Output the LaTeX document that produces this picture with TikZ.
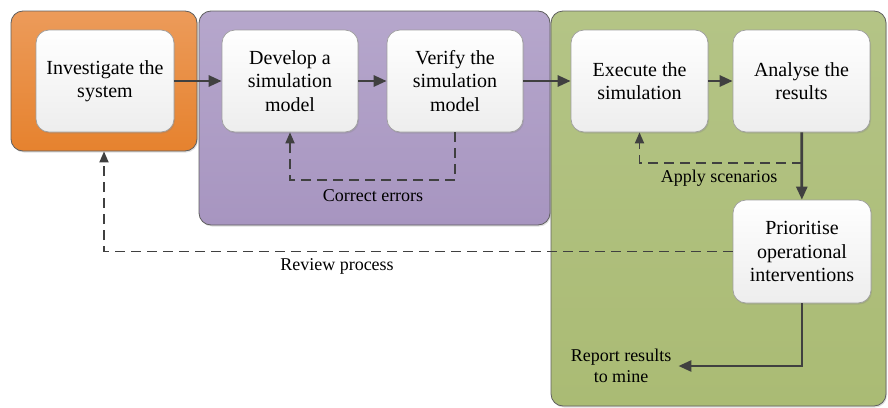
\documentclass[tikz,border=0pt]{standalone}
\usepackage{fontspec}
\setmainfont{Liberation Serif}
\usetikzlibrary{arrows.meta,shadows}
\definecolor{orgtop}{HTML}{EC9B5A}
\definecolor{orgbot}{HTML}{E6822E}
\definecolor{purtop}{HTML}{B6A7CC}
\definecolor{purbot}{HTML}{A795C0}
\definecolor{grntop}{HTML}{B4C486}
\definecolor{grnbot}{HTML}{AABB74}
\definecolor{linegray}{HTML}{404040}
\definecolor{framegray}{HTML}{5F5F5F}
\tikzset{
  container/.style={draw=framegray, line width=0.8pt, rounded corners=12pt,
    drop shadow={opacity=0.25, shadow xshift=1pt, shadow yshift=-1.5pt}},
  stepbox/.style={draw=gray!75, line width=0.7pt, rounded corners=13pt,
    top color=white, bottom color=gray!14, align=center,
    font=\rmfamily\fontsize{20}{23.5}\selectfont, inner sep=2pt,
    drop shadow={opacity=0.25, shadow xshift=1pt, shadow yshift=-1.5pt}},
  flow/.style={draw=linegray, line width=2.7pt, -{Triangle[length=13pt,width=11pt]}},
  back/.style={draw=linegray, line width=1.8pt, dash pattern=on 10pt off 6pt,
    -{Triangle[length=11pt,width=9pt]}},
  lbl/.style={font=\rmfamily\fontsize{18}{21.5}\selectfont, align=center, inner sep=1pt}
}
\begin{document}
\begin{tikzpicture}[x=1pt,y=-1pt]
\useasboundingbox (0,0) rectangle (888,407);
% containers
\node[container, top color=orgtop, bottom color=orgbot, minimum width=186pt, minimum height=140pt] (org) at (104,81) {};
\node[container, top color=purtop, bottom color=purbot, minimum width=351pt, minimum height=214pt] (pur) at (374.5,118) {};
\node[container, top color=grntop, bottom color=grnbot, minimum width=335pt, minimum height=395pt] (grn) at (718.5,208.5) {};
% steps
\node[stepbox, minimum width=138pt, minimum height=102pt] (inv) at (105,81) {Investigate the\\system};
\node[stepbox, minimum width=136pt, minimum height=102pt] (dev) at (290,81) {Develop a\\simulation\\model};
\node[stepbox, minimum width=136pt, minimum height=102pt] (ver) at (455,81) {Verify the\\simulation\\model};
\node[stepbox, minimum width=137pt, minimum height=102pt] (exe) at (639.5,81) {Execute the\\simulation};
\node[stepbox, minimum width=137pt, minimum height=102pt] (ana) at (801.5,81) {Analyse the\\results};
\node[stepbox, minimum width=138pt, minimum height=103pt] (pri) at (802,251.5) {Prioritise\\operational\\interventions};
% labels
\node[lbl] (lce) at (373,196) {Correct errors};
\node[lbl] (las) at (719,178) {Apply scenarios};
\node[lbl] (lrp) at (337,266) {Review process};
\node[lbl] (rep) at (621,366) {Report results\\to mine};
\coordinate (as) at (801.5,163);
% flow arrows
\draw[flow] (inv) -- (dev);
\draw[flow] (dev) -- (ver);
\draw[flow] (ver) -- (exe);
\draw[flow] (exe) -- (ana);
\draw[flow] (ana) -- (pri);
\draw[flow] (pri.south) |- ([xshift=6pt]rep.east);
% feedback loops
\draw[back] (ver.south) -- ++(0,48) -| (dev.south);
\draw[back] (as) -| (exe.south);
\draw[back] (pri.west) -| (org.south);
\end{tikzpicture}
\end{document}
